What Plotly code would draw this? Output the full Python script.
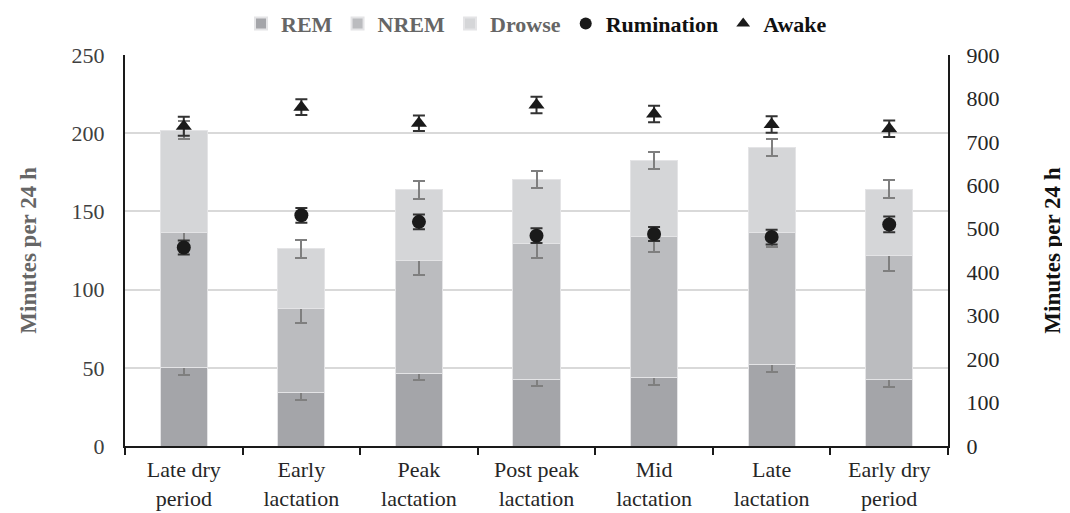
import plotly.graph_objects as go

categories = ["Late dry<br>period", "Early<br>lactation", "Peak<br>lactation", "Post peak<br>lactation",
              "Mid<br>lactation", "Late<br>lactation", "Early dry<br>period"]
rem = [50.0, 34.1, 46.5, 42.6, 43.9, 51.8, 42.6]
rem_err = [4.5, 4.5, 4.5, 4.5, 4.7, 4.7, 4.6]
nrem = [86.8, 54.1, 72.4, 86.8, 89.9, 84.8, 79.1]
nrem_err = [9.6, 9.5, 9.6, 9.4, 9.6, 9.6, 9.8]
drowse = [65.2, 37.8, 44.8, 41.1, 48.6, 54.4, 42.6]
drowse_err = [5.5, 5.6, 5.5, 5.5, 5.6, 5.5, 5.6]
rumination = [457, 531, 516, 484, 488, 481, 510]
rumination_err = [16, 17, 17, 17, 16, 17, 18]
awake = [736, 780, 743, 785, 764, 740, 730]
awake_err = [22, 18, 18, 19, 19, 19, 19]

FONT = "Liberation Serif, Times New Roman, serif"
err_gray = "#7f7f7f"

fig = go.Figure()
for name, vals, errs, col in [("REM", rem, rem_err, "#a4a5a9"),
                              ("NREM", nrem, nrem_err, "#bbbcbf"),
                              ("Drowse", drowse, drowse_err, "#d5d6d8")]:
    fig.add_trace(go.Bar(
        x=categories, y=vals, name=f"<b><span style='color:#666666'>{name}</span></b>",
        marker=dict(color=col, line=dict(color="#e4e4e6", width=1)),
        error_y=dict(type="data", array=errs, visible=True, color=err_gray, thickness=2, width=6),
        yaxis="y",
    ))

fig.add_trace(go.Scatter(
    x=categories, y=rumination, name="<b><span style='color:#111111'>Rumination</span></b>", mode="markers",
    marker=dict(symbol="circle", size=14, color="#1a1a1a"),
    error_y=dict(type="data", array=rumination_err, visible=True, color="#333333", thickness=2, width=6),
    yaxis="y2",
))
fig.add_trace(go.Scatter(
    x=categories, y=awake, name="<b><span style='color:#111111'>Awake</span></b>", mode="markers",
    marker=dict(symbol="triangle-up", size=14, color="#1a1a1a"),
    error_y=dict(type="data", array=awake_err, visible=True, color="#333333", thickness=2, width=6),
    yaxis="y2",
))

fig.update_layout(
    width=1062, height=505,
    barmode="stack", bargap=0.6,
    plot_bgcolor="white", paper_bgcolor="white",
    margin=dict(l=117, r=122, t=47, b=67),
    font=dict(family=FONT, size=22, color="#404040"),
    legend=dict(orientation="h", x=0.5, xanchor="center", y=0.969, yref="container", yanchor="middle",
                font=dict(family=FONT, size=22), itemsizing="constant", traceorder="normal",
                itemclick=False, tracegroupgap=0, itemwidth=30),
    xaxis=dict(showline=True, linecolor="#1a1a1a", linewidth=2, ticks="outside", tickson="boundaries",
               ticklen=7, tickwidth=2, tickcolor="#1a1a1a", showgrid=False, automargin=False,
               ticklabelstandoff=3,
               tickfont=dict(family=FONT, size=22, color="#262626")),
    yaxis=dict(range=[0, 250], dtick=50, showline=True, linecolor="#1a1a1a", linewidth=2,
               gridcolor="#d9d9d9", gridwidth=1.5, zeroline=False, ticks="", automargin=False,
               tickfont=dict(family=FONT, size=22, color="#404040"), ticklabelstandoff=14,
               title=dict(text="<b>Minutes per 24 h</b>", font=dict(family=FONT, size=23, color="#666666"),
                          standoff=29)),
    yaxis2=dict(range=[0, 900], dtick=100, overlaying="y", side="right", showline=True,
                linecolor="#1a1a1a", linewidth=2, showgrid=False, zeroline=False, ticks="", automargin=False,
                tickfont=dict(family=FONT, size=22, color="#262626"), ticklabelstandoff=12,
                title=dict(text="<b>Minutes per 24 h</b>", font=dict(family=FONT, size=23, color="#111111"),
                           standoff=45)),
)

fig.write_html("out.html")
